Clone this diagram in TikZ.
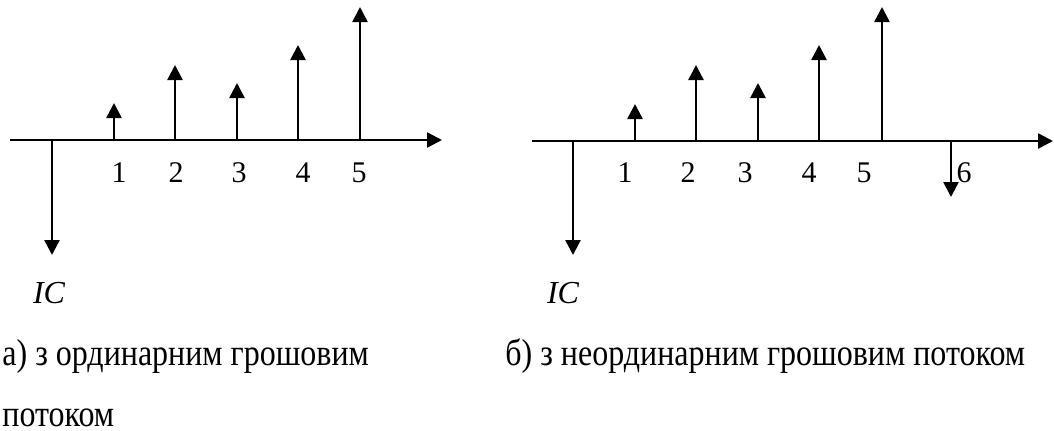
\documentclass[tikz,border=0pt]{standalone}
\usepackage{fontspec}
\setmainfont{Liberation Serif}
\usepackage{graphicx}
\usetikzlibrary{arrows.meta}
\begin{document}
\begin{tikzpicture}[x=0.5pt,y=-0.5pt,
  arr/.style={line width=1.25pt,-{Triangle[length=7.5pt,width=7.5pt]}},
  num/.style={anchor=base,inner sep=0pt,font=\fontsize{15pt}{18pt}\selectfont},
  ic/.style={anchor=base,inner sep=0pt,font=\fontsize{16pt}{19pt}\selectfont\itshape},
  captext/.style={anchor=base west,inner sep=0pt,font=\fontsize{16pt}{19pt}\selectfont}]
\useasboundingbox (0,0) rectangle (1054,430);
% ---------- left diagram ----------
\coordinate (La) at (10,140);
\coordinate (Lb) at (442,140);
\draw[arr] (La) -- (Lb);
\foreach \n/\x/\t in {0/52/255,1/114/103,2/175/65,3/237/83,4/298/45,5/360/7}{
  \coordinate (L\n) at (\x,140);
  \coordinate (L\n t) at (\x,\t);
  \draw[arr] (L\n) -- (L\n t);
}
\foreach \n/\x in {1/119,2/176,3/239,4/303,5/359}{
  \node[num] (Ln\n) at (\x,182) {\n};
}
\node[ic] (Lic) at (49,303) {IC};
% ---------- right diagram ----------
\coordinate (Ra) at (532,141);
\coordinate (Rb) at (1053,141);
\draw[arr] (Ra) -- (Rb);
\foreach \n/\x/\t in {0/573/255,1/635/104,2/696/65,3/758/83,4/819/45,5/882/7,6/951/197}{
  \coordinate (R\n) at (\x,141);
  \coordinate (R\n t) at (\x,\t);
  \draw[arr] (R\n) -- (R\n t);
}
\foreach \n/\x in {1/625,2/688,3/745,4/809,5/864,6/964}{
  \node[num] (Rn\n) at (\x,182) {\n};
}
\node[ic] (Ric) at (563,303) {IC};
% ---------- captions ----------
\node[captext] (capa) at (2,365) {\scalebox{1}[1.17]{а) з ординарним грошовим}};
\node[captext] (capa2) at (2,426) {\scalebox{1}[1.17]{потоком}};
\node[captext] (capb) at (505,365) {\scalebox{1}[1.17]{б) з неординарним грошовим потоком}};
\end{tikzpicture}
\end{document}
